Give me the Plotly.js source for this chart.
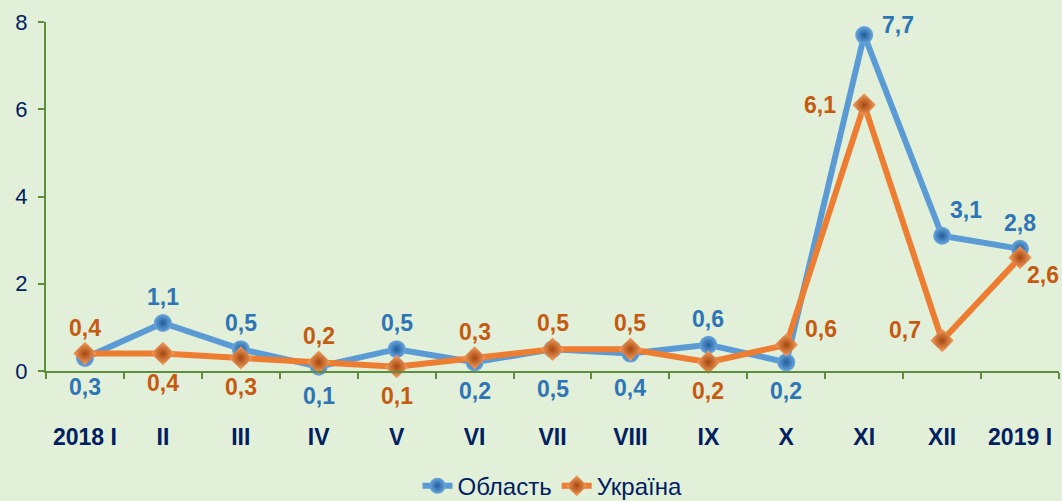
<!DOCTYPE html>
<html>
<head>
<meta charset="utf-8">
<script src="https://cdn.plot.ly/plotly-3.0.1.min.js"></script>
<style>html,body{margin:0;padding:0;background:#e2efd9;}#chart{width:1062px;height:501px;}</style>
</head>
<body>
<div id="chart"></div>
<script>
var categories = ['2018 I','II','III','IV','V','VI','VII','VIII','IX','X','XI','XII','2019 I'];
var oblastValues = [0.3, 1.1, 0.5, 0.1, 0.5, 0.2, 0.5, 0.4, 0.6, 0.2, 7.7, 3.1, 2.8];
var ukraineValues = [0.4, 0.4, 0.3, 0.2, 0.1, 0.3, 0.5, 0.5, 0.2, 0.6, 6.1, 0.7, 2.6];
var seriesNames = ['Область', 'Україна'];
var yTicks = [0, 2, 4, 6, 8];

// label placement codes (style, not data)
var oblastLabelPos = ['b','t','t','b','t','b','b2','b3','t','b','rt','tr','t'];
var ukraineLabelPos = ['t','b','b','t','b','t','t','t','b','rt2','l','lt','br'];
var shifts = {
  t: [0, 26], b: [0, -29], b2: [0, -40], b3: [0, -34], r: [35, 0], l: [-44, 0],
  tr: [24, 26], rt: [34, 10], rt2: [35, 16], lt: [-37, 10], br: [23, -17]
};

var fontFam = 'Arial, "Liberation Sans", sans-serif';
var blueLine = '#5b9bd5', orangeLine = '#ed7d31';
var blueText = '#2e75b6', orangeText = '#c55a11';
var navy = '#002060';

function fmt(v){ return v.toFixed(1).replace('.', ','); }

var traces = [
  {
    x: categories, y: oblastValues, name: seriesNames[0], type: 'scatter', mode: 'lines+markers',
    line: {color: blueLine, width: 6},
    marker: {symbol: 'circle', size: 18, color: '#6aa6de', gradient: {type: 'radial', color: '#1f5c99'}, line: {width: 0}},
    cliponaxis: false
  },
  {
    x: categories, y: ukraineValues, name: seriesNames[1], type: 'scatter', mode: 'lines+markers',
    line: {color: orangeLine, width: 6},
    marker: {symbol: 'diamond', size: 18, color: '#f7a060', gradient: {type: 'radial', color: '#a5470f'}, line: {width: 0}},
    cliponaxis: false
  }
];

var annotations = [];
function addLabels(vals, pos, color){
  for (var i = 0; i < vals.length; i++){
    var s = shifts[pos[i]];
    annotations.push({
      x: categories[i], y: vals[i], xref: 'x', yref: 'y', text: fmt(vals[i]),
      showarrow: false, xshift: s[0], yshift: s[1],
      font: {family: fontFam, size: 23, color: color, weight: 'bold'}
    });
  }
}
addLabels(oblastValues, oblastLabelPos, blueText);
addLabels(ukraineValues, ukraineLabelPos, orangeText);

var layout = {
  width: 1062, height: 501,
  paper_bgcolor: '#e2efd9', plot_bgcolor: '#e2efd9',
  margin: {l: 46, r: 3, t: 22, b: 130, autoexpand: false},
  showlegend: true,
  legend: {
    orientation: 'h', x: 0.5, xanchor: 'center',
    y: -0.33, yanchor: 'middle',
    font: {family: fontFam, size: 24, color: navy}, bgcolor: 'rgba(0,0,0,0)'
  },
  xaxis: {
    type: 'category', range: [-0.5, categories.length - 0.5],
    tickson: 'boundaries', ticks: 'outside', ticklen: 6, tickwidth: 2, tickcolor: '#5e8f3e',
    showline: true, linecolor: '#5e8f3e', linewidth: 2, showgrid: false, zeroline: false,
    tickfont: {family: fontFam, size: 23, color: navy, weight: 'bold'},
    ticklabelstandoff: 44, fixedrange: true
  },
  yaxis: {
    range: [0, 8], tickvals: yTicks, ticktext: yTicks.map(String),
    ticks: 'outside', ticklen: 6, tickwidth: 2, tickcolor: '#5e8f3e',
    showline: true, linecolor: '#5e8f3e', linewidth: 2, showgrid: false, zeroline: false,
    tickfont: {family: fontFam, size: 22, color: navy}, ticklabelstandoff: 6, fixedrange: true
  },
  annotations: annotations
};

Plotly.newPlot('chart', traces, layout, {displayModeBar: false, staticPlot: true});
</script>
</body>
</html>
